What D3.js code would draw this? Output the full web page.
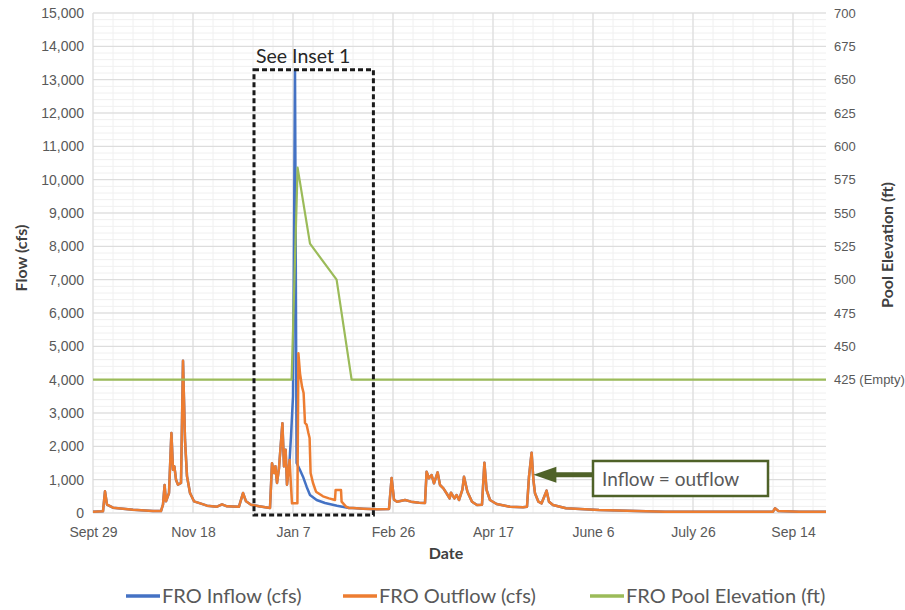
<!DOCTYPE html>
<html>
<head>
<meta charset="utf-8">
<script src="https://cdn.jsdelivr.net/npm/d3@7"></script>
<style>
body{margin:0;background:#fff;}
svg{font-family:Lato,"Open Sans",sans-serif;}
</style>
</head>
<body>
<div id="chart"></div>
<script>
// x values are days counted from Sept 29
var tickDays=[0,50,100,150,200,250,300,350];
var tickLabels=["Sept 29","Nov 18","Jan 7","Feb 26","Apr 17","June 6","July 26","Sep 14"];
var flowTicks=[0,1000,2000,3000,4000,5000,6000,7000,8000,9000,10000,11000,12000,13000,14000,15000];
var elevTicks=[425,450,475,500,525,550,575,600,625,650,675,700];
var seriesNames=["FRO Inflow (cfs)","FRO Outflow (cfs)","FRO Pool Elevation (ft)"];

var outflow=[
  [0,40],[5,50],[6,650],[7,250],[10,160],[20,100],[30,60],[34,60],[35,250],[35.8,840],[36.5,350],
  [38,600],[39.2,2400],[40,1300],[40.7,1400],[41.5,1000],[42.5,850],[44,900],[45,4570],[46,2200],
  [47,1100],[48.5,600],[50.5,350],[54,280],[57,220],[62,190],[64.5,260],[67,200],[73,190],[75,600],
  [76.5,350],[79,250],[83,200],[88.5,150],[89.5,1490],[90.5,1200],[91.2,1400],[92,900],[93,1350],
  [94.7,2690],[95.5,1400],[96.3,1900],[97,850],[98.3,1590],[99,800],[99.5,290],[102.2,290],
  [102.7,4790],[103.5,4190],[104.5,3790],[105.3,3600],[106,2700],[106.8,2650],[107.7,2400],
  [108.3,2250],[108.8,1200],[110,900],[111.5,640],[115,500],[118,440],[121,390],[121.3,690],
  [124,690],[124.3,340],[126.5,190],[128,150],[130,150],[135,130],[142,110],[148,120],[149.3,1050],
  [150.5,400],[152,340],[156,390],[159,340],[163,310],[166,300],[166.8,1240],[168,1040],[169.3,1140],
  [170.5,890],[172.3,1220],[173.5,840],[175.2,740],[177,570],[178.3,440],[179,610],[180.7,440],
  [181.8,540],[183,390],[184.7,700],[185.5,1090],[187.2,640],[189.5,340],[192,240],[194.5,250],
  [195.7,1510],[196.8,690],[198.5,390],[201.8,270],[208.5,190],[215,170],[217,190],[218,1090],
  [219.3,1810],[220.2,990],[221,590],[222.7,340],[224.3,290],[226.8,670],[228,340],[230,240],
  [236.5,140],[253,90],[286,40],[340,40],[341,140],[342.7,60],[353,40],[366.5,40]
];
// inflow departs from outflow only during the January storm
var inflowStorm=[
  [98.3,1590],[99,2300],[100,3500],[100.5,8000],[101,13300],[101.8,1500],[103.5,1290],[105,1090],
  [106.8,790],[108.5,540],[111.8,390],[116,300],[122,220],[128,150]
];
var poolElevation=[[0,425],[99.3,425],[102.3,584],[108.5,527],[121.8,500],[129.3,425],[366.5,425]];

var colors={inflow:"#4472C4",outflow:"#ED7D31",pool:"#9BBB59"};

var inflow=outflow.filter(function(d){return d[0]<98.3;})
  .concat(inflowStorm)
  .concat(outflow.filter(function(d){return d[0]>128;}));

var W=905,H=610;
var svg=d3.select("#chart").append("svg").attr("width",W).attr("height",H);

var x=d3.scaleLinear().domain([0,366.5]).range([93,826]);
var yFlow=d3.scaleLinear().domain([0,15000]).range([513,13]);
var yElev=d3.scaleLinear().domain([325,700]).range([513,13]);

// grid, minor first then major
var grid=svg.append("g");
grid.selectAll(".vminor").data(d3.range(0,367,10)).enter().append("line")
  .attr("x1",function(d){return x(d);}).attr("x2",function(d){return x(d);})
  .attr("y1",yFlow(0)).attr("y2",yFlow(15000))
  .attr("stroke","#f0f0f0").attr("stroke-width",1);
grid.selectAll(".hminor").data(d3.range(0,15001,200)).enter().append("line")
  .attr("x1",x(0)).attr("x2",x(366.5))
  .attr("y1",function(d){return yFlow(d);}).attr("y2",function(d){return yFlow(d);})
  .attr("stroke","#f0f0f0").attr("stroke-width",1);
grid.selectAll(".vmajor").data(tickDays).enter().append("line")
  .attr("x1",function(d){return x(d);}).attr("x2",function(d){return x(d);})
  .attr("y1",yFlow(0)).attr("y2",yFlow(15000))
  .attr("stroke","#d9d9d9").attr("stroke-width",1);
grid.selectAll(".hmajor").data(flowTicks).enter().append("line")
  .attr("x1",x(0)).attr("x2",x(366.5))
  .attr("y1",function(d){return yFlow(d);}).attr("y2",function(d){return yFlow(d);})
  .attr("stroke","#d9d9d9").attr("stroke-width",1);

// axes
var styleAxis=function(size){
  return function(g){
    g.select(".domain").remove();
    g.selectAll("line").remove();
    g.selectAll("text").attr("fill","#595959").style("font-size",size);
  };
};
svg.append("g").attr("transform","translate(93,0)")
  .call(d3.axisLeft(yFlow).tickValues(flowTicks).tickFormat(d3.format(",")).tickSize(0).tickPadding(9))
  .call(styleAxis("14px"));
svg.append("g").attr("transform","translate(826,0)")
  .call(d3.axisRight(yElev).tickValues(elevTicks).tickSize(0).tickPadding(8)
    .tickFormat(function(d){return d==425?"425 (Empty)":d;}))
  .call(styleAxis("13px"));
svg.append("g").attr("transform","translate(0,513)")
  .call(d3.axisBottom(x).tickValues(tickDays).tickSize(0).tickPadding(14)
    .tickFormat(function(d,i){return tickLabels[i];}))
  .call(styleAxis("14px"));

// axis titles
svg.append("text").attr("transform","translate(27,258) rotate(-90)")
  .attr("text-anchor","middle").attr("fill","#404040")
  .style("font-size","16px").style("font-weight","bold").text("Flow (cfs)");
svg.append("text").attr("transform","translate(893,245) rotate(-90)")
  .attr("text-anchor","middle").attr("fill","#404040")
  .style("font-size","16px").style("font-weight","bold").text("Pool Elevation (ft)");
svg.append("text").attr("x",446).attr("y",559)
  .attr("text-anchor","middle").attr("fill","#404040")
  .style("font-size","16px").style("font-weight","bold").text("Date");

// series
var flowLine=d3.line().x(function(d){return x(d[0]);}).y(function(d){return yFlow(d[1]);});
var elevLine=d3.line().x(function(d){return x(d[0]);}).y(function(d){return yElev(d[1]);});
svg.append("path").datum(inflow).attr("d",flowLine)
  .attr("fill","none").attr("stroke",colors.inflow).attr("stroke-width",2.5).attr("stroke-linejoin","round");
svg.append("path").datum(outflow).attr("d",flowLine)
  .attr("fill","none").attr("stroke",colors.outflow).attr("stroke-width",2.5).attr("stroke-linejoin","round");
svg.append("path").datum(poolElevation).attr("d",elevLine)
  .attr("fill","none").attr("stroke",colors.pool).attr("stroke-width",2.2).attr("stroke-linejoin","round");

// inset box
svg.append("rect").attr("x",x(80.5)).attr("y",yFlow(13300))
  .attr("width",x(140.2)-x(80.5)).attr("height",515-yFlow(13300))
  .attr("fill","none").attr("stroke","#1a1a1a").attr("stroke-width",3).attr("stroke-dasharray","5,3");
svg.append("text").attr("x",x(81.5)).attr("y",63).attr("fill","#262626")
  .style("font-size","19.5px").text("See Inset 1");

// callout
var tipX=x(220.2),tipY=yFlow(1150);
svg.append("line").attr("x1",tipX+20).attr("x2",593).attr("y1",tipY).attr("y2",tipY)
  .attr("stroke","#4F6228").attr("stroke-width",5);
svg.append("path")
  .attr("d","M"+tipX+","+tipY+"L"+(tipX+23)+","+(tipY-8)+"L"+(tipX+23)+","+(tipY+8)+"Z")
  .attr("fill","#4F6228");
svg.append("rect").attr("x",593).attr("y",461).attr("width",175).attr("height",35)
  .attr("fill","#fff").attr("stroke","#4F6228").attr("stroke-width",2.5);
svg.append("text").attr("x",602).attr("y",486).attr("fill","#595959")
  .style("font-size","19px").text("Inflow = outflow");

// legend
var legendX=[126,343,590];
var legendColors=[colors.inflow,colors.outflow,colors.pool];
var leg=svg.selectAll(".leg").data(seriesNames).enter().append("g")
  .attr("transform",function(d,i){return "translate("+legendX[i]+",596)";});
leg.append("line").attr("x1",0).attr("x2",34).attr("y1",0).attr("y2",0)
  .attr("stroke",function(d,i){return legendColors[i];}).attr("stroke-width",3.5);
leg.append("text").attr("x",36).attr("y",7).attr("fill","#595959")
  .style("font-size","20px").text(function(d){return d;});
</script>
</body>
</html>
